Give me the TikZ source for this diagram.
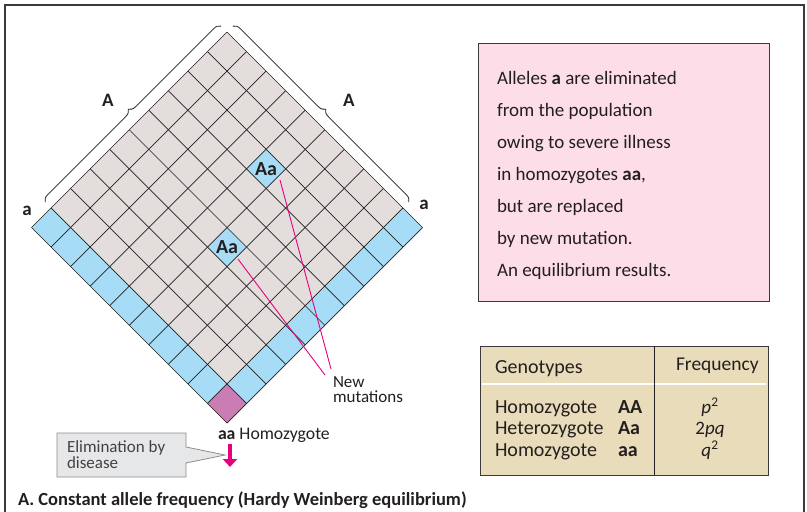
\documentclass[tikz,border=0pt]{standalone}
\usepackage{fontspec}
\setmainfont{Carlito}
\usetikzlibrary{decorations.pathreplacing,arrows.meta}
\definecolor{ink}{HTML}{231F20}
\definecolor{framec}{HTML}{3A3A3A}
\definecolor{cellgray}{HTML}{E3DEDC}
\definecolor{cellblue}{HTML}{A6DCF5}
\definecolor{cellpurple}{HTML}{C97DB3}
\definecolor{pinkbox}{HTML}{FCDDE8}
\definecolor{tanbox}{HTML}{E8DCBA}
\definecolor{calloutfill}{HTML}{E6E7E8}
\definecolor{calloutline}{HTML}{8C8C8C}
\definecolor{mag}{HTML}{E5007D}
\newcommand\quadfill[5]{\fill[#5] (#1,#2) -- (#3,#2) -- (#3,#4) -- (#1,#4) -- cycle;}
\begin{document}
\begin{tikzpicture}[x=1pt,y=-1pt,
  every node/.style={inner sep=0pt, outer sep=0pt, text=ink},
  gridline/.style={draw=ink, line width=0.7pt},
  cellLbl/.style={font=\fontsize{20}{20}\selectfont\bfseries},
  alleleLbl/.style={font=\fontsize{19}{19}\selectfont\bfseries},
  pinktxt/.style={font=\fontsize{19}{19}\selectfont, anchor=base west},
  tabtxt/.style={font=\fontsize{20}{20}\selectfont, anchor=base west},
  tabbold/.style={font=\fontsize{20}{20}\selectfont\bfseries, anchor=base west},
  freqtxt/.style={font=\fontsize{19}{19}\selectfont, anchor=base},
  bracestyle/.style={draw=ink, line width=0.8pt, decorate, decoration={brace, amplitude=7pt}},
  mutline/.style={draw=mag, line width=0.9pt},
  smalltxt/.style={font=\fontsize{17}{15.5}\selectfont, anchor=base west, align=left}]
\useasboundingbox (0,0) rectangle (807,512);
% frame
\draw[framec, line width=1.6pt] (5,512) -- (5,5) -- (804,5) -- (804,512);

% grid
\begin{scope}[shift={(227,32)}, x={(-19.55pt,-19.55pt)}, y={(19.55pt,-19.55pt)}]
  \quadfill{0}{0}{10}{10}{cellgray}
  \quadfill{9}{0}{10}{9}{cellblue}
  \quadfill{0}{9}{9}{10}{cellblue}
  \quadfill{9}{9}{10}{10}{cellpurple}
  \quadfill{2}{4}{3}{5}{cellblue}
  \quadfill{5}{5}{6}{6}{cellblue}
  \foreach \k in {0,...,10} {
    \draw[gridline] (\k,0) -- (\k,10);
    \draw[gridline] (0,\k) -- (10,\k);
  }
  \node[cellLbl] (aa1) at (2.5,4.5) {Aa};
  \node[cellLbl] (aa2) at (5.5,5.5) {Aa};
  \draw[bracestyle] (9,-0.3) -- (0,-0.3);
  \draw[bracestyle] (-0.3,0) -- (-0.3,9);
\end{scope}

\node[alleleLbl] (bigAL) at (108,100) {A};
\node[alleleLbl] (bigAR) at (349,100) {A};
\node[alleleLbl] (smaL) at (27,211) {a};
\node[alleleLbl] (smaR) at (424,205) {a};

% new mutations
\node[smalltxt] (nm) at (333,402.5) {New\\mutations};
\coordinate (m1s) at (280,180);
\coordinate (m1e) at (331,369);
\coordinate (m2s) at (238,259);
\coordinate (m2e) at (325,375);
\draw[mutline] (m1s) -- (m1e);
\draw[mutline] (m2s) -- (m2e);

% homozygote label
\node[font=\fontsize{17.7}{17}\selectfont, anchor=base west] (homo) at (218,439) {\textbf{aa} Homozygote};

% callout
\draw[fill=calloutfill, draw=calloutline, line width=0.8pt] (57,433) -- (186,433) -- (186,447) -- (225,455) -- (186,463) -- (186,477) -- (57,477) -- cycle;
\node[smalltxt, text=ink!85] (el) at (67,468) {Elimination by\\disease};
\coordinate (arS) at (230,444);
\coordinate (arE) at (230,467);
\draw[mag, line width=3.5pt, -{Triangle[width=14pt,length=8pt]}] (arS) -- (arE);

% pink box
\draw[fill=pinkbox, draw=framec, line width=0.8pt] (478,43) rectangle (769,301);
\node[pinktxt] (p1) at (497,84) {Alleles \textbf{a} are eliminated};
\node[pinktxt] (p2) at (497,116) {from the population};
\node[pinktxt] (p3) at (497,148) {owing to severe illness};
\node[pinktxt] (p4) at (497,180) {in homozygotes \textbf{aa},};
\node[pinktxt] (p5) at (497,212) {but are replaced};
\node[pinktxt] (p6) at (497,244) {by new mutation.};
\node[pinktxt] (p7) at (497,276) {An equilibrium results.};

% table
\draw[fill=tanbox, draw=framec, line width=0.8pt] (480,346) rectangle (768,475);
\draw[white, line width=2.5pt] (482,384) -- (766,384);
\draw[ink, line width=0.8pt] (654,346) -- (654,475);
\node[tabtxt] (th1) at (495,373) {Genotypes};
\node[tabtxt, font=\fontsize{19.5}{19}\selectfont] (th2) at (676,370) {Frequency};
\node[tabtxt] (r1) at (495,413) {Homozygote};
\node[tabtxt] (r2) at (495,434) {Heterozygote};
\node[tabtxt] (r3) at (495,456) {Homozygote};
\node[tabbold] (g1) at (618,413) {AA};
\node[tabbold] (g2) at (618,434) {Aa};
\node[tabbold] (g3) at (618,456) {aa};
\node[freqtxt] (f1) at (710,413) {\textit{p}\textsuperscript{2}};
\node[freqtxt] (f2) at (710,434) {2\textit{pq}};
\node[freqtxt] (f3) at (710,456) {\textit{q}\textsuperscript{2}};

% caption
\node[font=\fontsize{18.5}{19}\selectfont\bfseries, anchor=base west] (cap) at (18,505) {A. Constant allele frequency (Hardy Weinberg equilibrium)};
\end{tikzpicture}
\end{document}
